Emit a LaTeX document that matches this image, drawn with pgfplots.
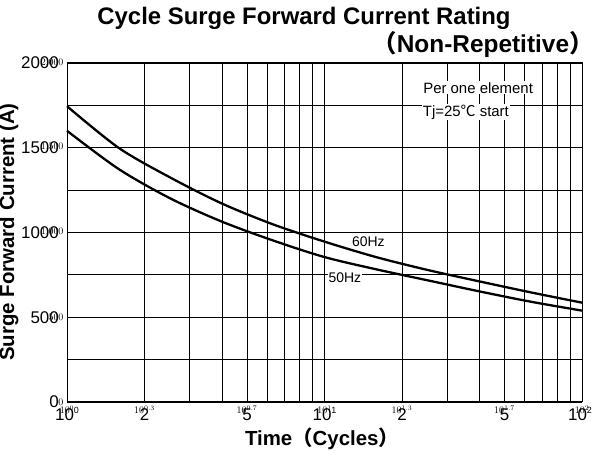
\documentclass[border=0pt]{standalone}
\usepackage{pgfplots}
\pgfplotsset{compat=1.18}
\usepackage{fontspec}
\setmainfont{Liberation Sans}
\newfontfamily\cjk{Noto Sans CJK JP}
\newcommand\supnum[1]{\raisebox{0.8ex}{\fontsize{9}{9}\selectfont #1}}
\begin{document}
\begin{tikzpicture}[x=1bp,y=1bp]
\useasboundingbox (0,0) rectangle (604,456);
\begin{axis}[
  at={(67bp,54bp)}, anchor=south west,
  scale only axis, width=515bp, height=339bp,
  xmode=log, xmin=1, xmax=100, ymin=0, ymax=2000,
  log basis x=10,
  xtick={1,2,5,10,20,50,100},
  xticklabel={},
  minor xtick={3,4,6,7,8,9,30,40,60,70,80,90},
  ytick={0,500,1000,1500,2000},
  yticklabel={},
  minor ytick={250,750,1250,1750},
  grid=both,
  major grid style={black, line width=0.8pt},
  minor grid style={black, line width=0.8pt},
  axis line style={black, line width=1pt},
  tick style={draw=none},
  clip=false,
]
\addplot[black, line width=2.3pt, smooth] coordinates {
 (1,1745) (1.585,1500) (2.512,1325) (3.981,1172) (6.310,1048) (10,946) (15.85,855) (25.12,779) (39.81,712) (63.10,647) (100,586)};
\addplot[black, line width=2.3pt, smooth] coordinates {
 (1,1600) (1.585,1375) (2.512,1202) (3.981,1065) (6.310,953) (10,855) (15.85,783) (25.12,718) (39.81,653) (63.10,592) (100,539)};
% y tick labels
\node[anchor=east, inner sep=0pt, xshift=-8bp, font=\fontsize{17}{17}\selectfont] at (axis cs:1,0) {0};
\node[anchor=east, inner sep=0pt, xshift=-8bp, font=\fontsize{17}{17}\selectfont] at (axis cs:1,500) {500};
\node[anchor=east, inner sep=0pt, xshift=-8bp, font=\fontsize{17}{17}\selectfont] at (axis cs:1,1000) {1000};
\node[anchor=east, inner sep=0pt, xshift=-8bp, font=\fontsize{17}{17}\selectfont] at (axis cs:1,1500) {1500};
\node[anchor=east, inner sep=0pt, xshift=-8bp, font=\fontsize{17}{17}\selectfont] at (axis cs:1,2000) {2000};
% x tick labels
\node[anchor=base, inner sep=0pt, yshift=-19bp, font=\fontsize{17}{17}\selectfont] at (axis cs:1,0) {10\supnum{0}};
\node[anchor=base, inner sep=0pt, yshift=-19bp, font=\fontsize{17}{17}\selectfont] at (axis cs:2,0) {2};
\node[anchor=base, inner sep=0pt, yshift=-19bp, font=\fontsize{17}{17}\selectfont] at (axis cs:5,0) {5};
\node[anchor=base, inner sep=0pt, yshift=-19bp, font=\fontsize{17}{17}\selectfont] at (axis cs:10,0) {10\supnum{1}};
\node[anchor=base, inner sep=0pt, yshift=-19bp, font=\fontsize{17}{17}\selectfont] at (axis cs:20,0) {2};
\node[anchor=base, inner sep=0pt, yshift=-19bp, font=\fontsize{17}{17}\selectfont] at (axis cs:50,0) {5};
\node[anchor=base, inner sep=0pt, yshift=-19bp, xshift=-2bp, font=\fontsize{17}{17}\selectfont] at (axis cs:100,0) {10\supnum{2}};
% annotations
\node[fill=white, inner sep=1pt, font=\fontsize{14}{14}\selectfont] at (axis cs:14.8,946) {60Hz};
\node[fill=white, inner sep=1pt, font=\fontsize{14}{14}\selectfont] at (axis cs:12.0,733) {50Hz};
\node[fill=white, inner sep=1pt, font=\fontsize{15}{15}\selectfont] at (axis cs:39.5,1853) {Per one element};
\node[fill=white, inner sep=1pt, font=\fontsize{15}{15}\selectfont] at (axis cs:35.4,1711) {Tj=25{\cjk ℃} start};
\end{axis}
\node[font=\fontsize{20.5}{20.5}\selectfont\bfseries, rotate=90, anchor=center] at (9,224) {Surge Forward Current (A)};
\node[font=\fontsize{20.5}{20.5}\selectfont\bfseries, anchor=center] at (322,17) {Time{\cjk （}Cycles{\cjk ）}};
\node[font=\fontsize{24}{24}\selectfont\bfseries, anchor=center] at (304,438) {Cycle Surge Forward Current Rating};
\node[font=\fontsize{24.5}{24.5}\selectfont\bfseries, anchor=east] at (597,411) {{\cjk （}Non-Repetitive{\cjk ）}};
\end{tikzpicture}
\end{document}
